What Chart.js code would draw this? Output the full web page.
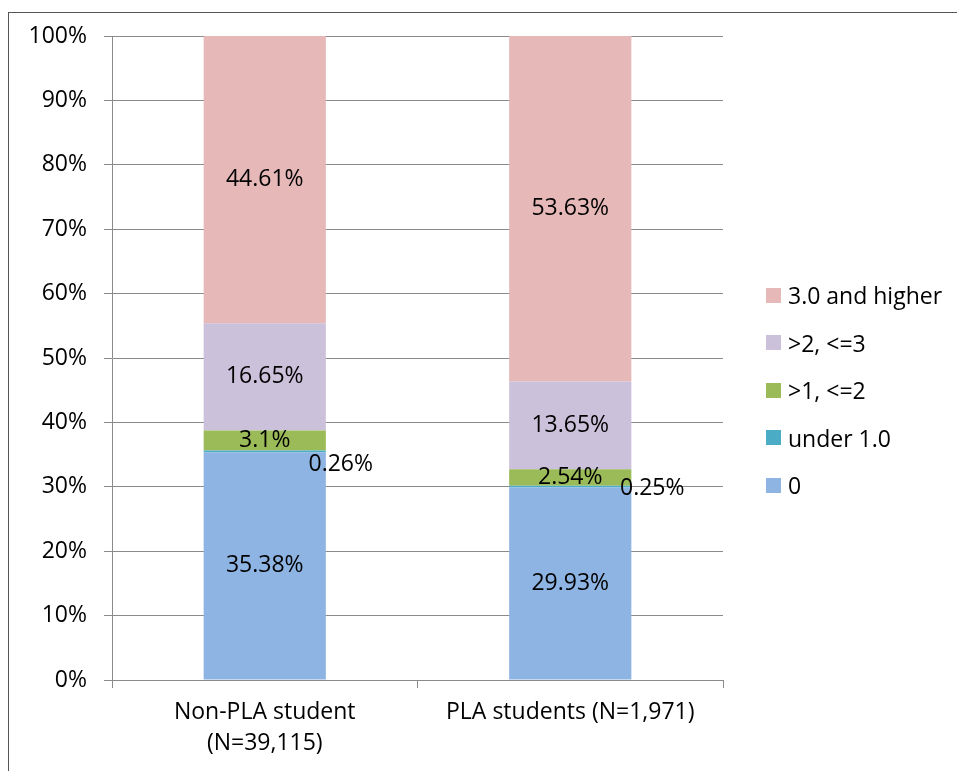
<!DOCTYPE html>
<html>
<head>
<meta charset="utf-8">
<script src="https://cdn.jsdelivr.net/npm/chart.js@4/dist/chart.umd.min.js"></script>
<style>
  body { margin: 0; background: #fff; }
  #wrap { position: relative; width: 957px; height: 771px; overflow: hidden; }
  #frame { position: absolute; left: 8px; top: 12px; width: 1000px; height: 800px; border: 1px solid #555; pointer-events: none; }
  #legend { position: absolute; left: 766px; top: 280px; font: 23px "Open Sans", sans-serif; color: #000; }
  #legend .item { display: flex; align-items: center; height: 30px; margin-bottom: 17.5px; white-space: nowrap; }
  #legend .box { width: 15px; height: 15px; margin-right: 7px; }
</style>
</head>
<body>
<div id="wrap">
  <canvas id="gpaChart" width="957" height="771"></canvas>
  <div id="frame"></div>
  <div id="legend"></div>
</div>
<script>
// categories //
var groups = [["Non-PLA student", "(N=39,115)"], "PLA students (N=1,971)"];
var yTicks = [0, 10, 20, 30, 40, 50, 60, 70, 80, 90, 100];

// series values (percent), bottom to top //
var gpaZero   = [35.38, 29.93];
var gpaUnder1 = [0.26, 0.25];
var gpa1to2   = [3.1, 2.54];
var gpa2to3   = [16.65, 13.65];
var gpa3plus  = [44.61, 53.63];

var seriesNames = ["0", "under 1.0", ">1, <=2", ">2, <=3", "3.0 and higher"];
var seriesColors = ["#8EB4E3", "#4BACC6", "#9BBB59", "#CCC1DA", "#E6B9B8"];

// label nudges for the thin "under 1.0" segment
var under1Nudge = [[76, 13], [82, 2]];

var FONT = '"Open Sans", sans-serif';

var valueLabels = {
    id: 'valueLabels',
    afterDatasetsDraw: function(chart) {
        var ctx = chart.ctx;
        ctx.save();
        ctx.font = '23px ' + FONT;
        ctx.fillStyle = '#000';
        ctx.textAlign = 'center';
        ctx.textBaseline = 'middle';
        chart.data.datasets.forEach(function(ds, di) {
            var meta = chart.getDatasetMeta(di);
            meta.data.forEach(function(bar, i) {
                var p = bar.getCenterPoint();
                var dx = 0, dy = 0;
                if (di == 1) { dx = under1Nudge[i][0]; dy = under1Nudge[i][1]; }
                ctx.fillText(ds.data[i] + '%', p.x + dx, p.y + dy);
            });
        });
        ctx.restore();
    }
};

var allSeries = [gpaZero, gpaUnder1, gpa1to2, gpa2to3, gpa3plus];
var datasets = allSeries.map(function(vals, i) {
    return {
        label: seriesNames[i],
        data: vals,
        backgroundColor: seriesColors[i],
        borderWidth: 0,
        categoryPercentage: 1,
        barPercentage: 0.4
    };
});

var PAD = {left: 10, right: 234, top: 36, bottom: 4};

var chart = new Chart(document.getElementById('gpaChart'), {
    type: 'bar',
    data: { labels: groups, datasets: datasets },
    options: {
        responsive: false,
        animation: false,
        layout: { padding: PAD },
        plugins: { legend: { display: false }, tooltip: { enabled: false } },
        scales: {
            x: {
                stacked: true,
                grid: { offset: true, drawOnChartArea: false, color: '#8a8a8a', tickLength: 8 },
                border: { color: '#8a8a8a' },
                ticks: { color: '#000', font: { family: FONT, size: 23, lineHeight: 1.35 }, padding: 9, maxRotation: 0 },
                afterFit: function(s) { s.height = 771 - 680 - PAD.bottom; }
            },
            y: {
                stacked: true,
                min: 0,
                max: 100,
                afterBuildTicks: function(s) { s.ticks = yTicks.map(function(v) { return {value: v}; }); },
                grid: { color: '#8a8a8a', tickLength: 8 },
                border: { color: '#8a8a8a' },
                ticks: { color: '#000', font: { family: FONT, size: 23 }, padding: 17,
                         callback: function(v) { return v + '%'; } },
                afterFit: function(s) { s.width = 112 - PAD.left; }
            }
        }
    },
    plugins: [valueLabels]
});

// Legend, top to bottom //
var legendDiv = document.getElementById('legend');
chart.data.datasets.slice().reverse().forEach(function(ds) {
    var item = document.createElement('div');
    item.className = 'item';
    item.innerHTML = '<span class="box" style="background:' + ds.backgroundColor + '"></span>' + ds.label.replace(/</g, '&lt;').replace(/>/g, '&gt;');
    legendDiv.appendChild(item);
});
</script>
</body>
</html>
